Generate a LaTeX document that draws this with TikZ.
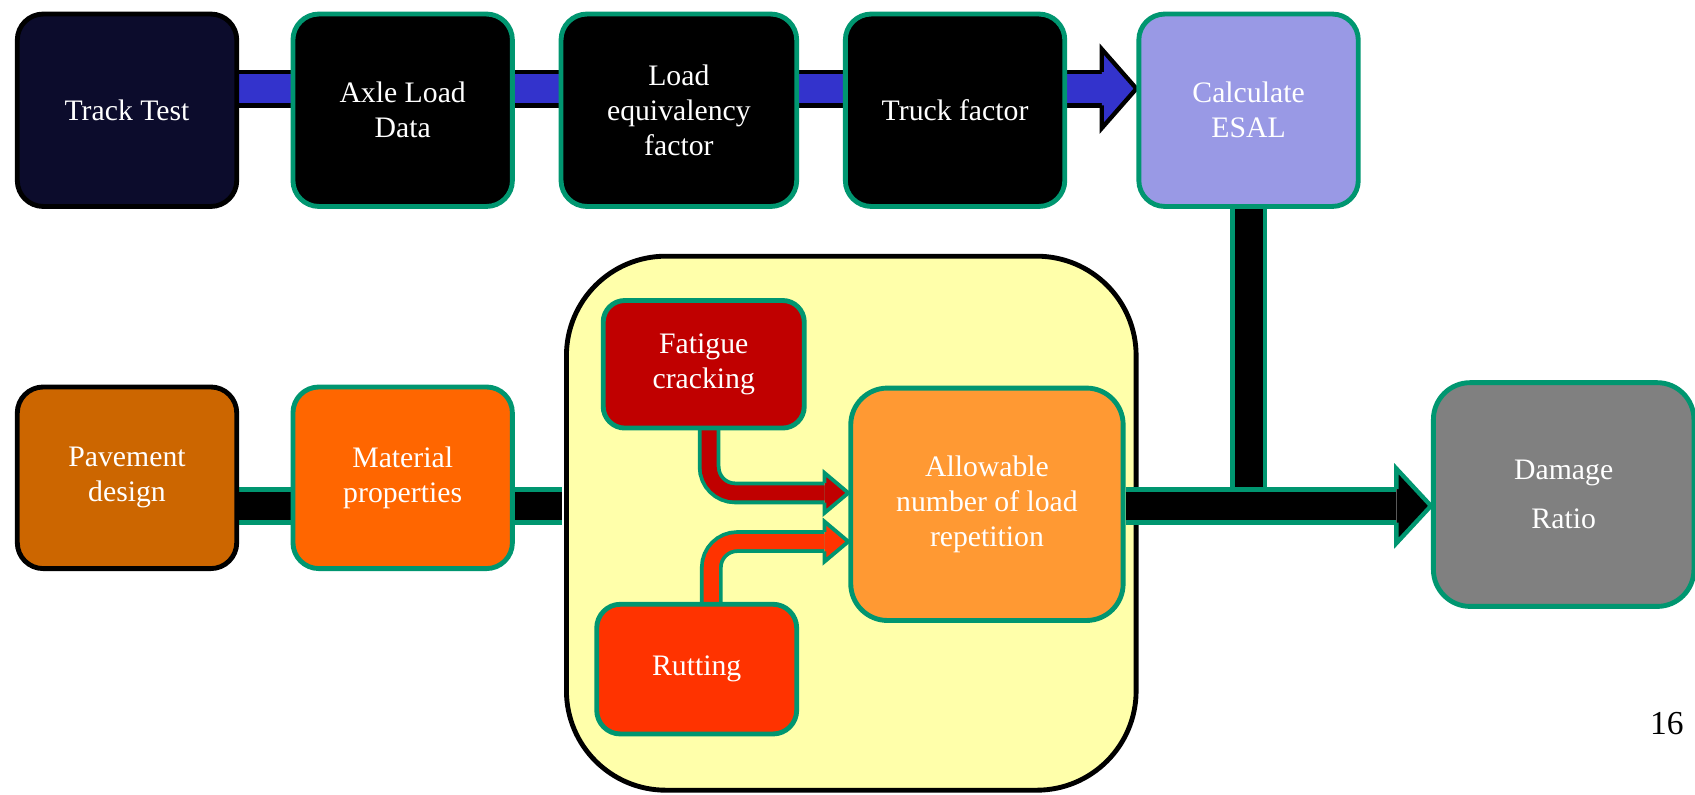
\documentclass[tikz,border=0pt]{standalone}
\usepackage{fontspec}
\setmainfont{Liberation Serif}
\usetikzlibrary{calc}

\definecolor{edge}{RGB}{0,150,112}
\definecolor{navy}{RGB}{12,12,44}
\definecolor{bandblue}{RGB}{51,51,204}
\definecolor{esalblue}{RGB}{153,153,229}
\definecolor{brownish}{RGB}{204,102,0}
\definecolor{matorange}{RGB}{255,102,0}
\definecolor{paleyellow}{RGB}{255,255,170}
\definecolor{darkred}{RGB}{192,0,0}
\definecolor{redorange}{RGB}{255,51,0}
\definecolor{lightorange}{RGB}{255,153,51}
\definecolor{midgrey}{RGB}{128,128,128}

\pgfdeclarelayer{back}
\pgfdeclarelayer{links}
\pgfsetlayers{back,links,main}

\begin{document}
\begin{tikzpicture}[x=1pt, y=1pt,
	box/.style={rounded corners=24pt, line width=4.5pt, draw=edge, text=white, align=center,
		font=\fontsize{27.5}{32.5}\selectfont, minimum width=203pt, minimum height=178pt},
	band/.style={line width=4.5pt, draw=edge, double=black, double distance=26pt},
	thinband/.style={line width=3.5pt, draw=edge, double distance=14pt, rounded corners=24pt},
	head/.style={line width=4pt, draw=edge, line join=miter}]
	\useasboundingbox (0,0) rectangle (1568,735);

	% frame round the damage models
	\begin{pgfonlayer}{back}
		\node [draw=black, fill=paleyellow, line width=4.5pt, rounded corners=92pt,
			minimum width=527pt, minimum height=494pt] (frame) at (787.5,251) {};
	\end{pgfonlayer}

	% top row
	\node [box, draw=black, fill=navy] (track) at (117.5,633) {Track Test};
	\node [box, fill=black] (axle) at (372.5,633) {Axle Load\\Data};
	\node [box, fill=black, minimum width=218pt] (lef) at (628,633) {Load\\equivalency\\factor};
	\node [box, fill=black] (truck) at (883.5,633) {Truck factor};
	\node [box, fill=esalblue] (esal) at (1155,633) {Calculate\\ESAL};

	% bottom row
	\node [box, draw=black, fill=brownish, minimum height=168pt] (pave) at (117.5,293) {Pavement\\design};
	\node [box, fill=matorange, minimum height=168pt] (matl) at (372.5,293) {Material\\properties};
	\node [box, fill=darkred, rounded corners=20pt, minimum width=186pt, minimum height=118pt] (fatigue) at (651,398) {Fatigue\\cracking};
	\node [box, fill=redorange, rounded corners=22pt, minimum width=185pt, minimum height=120pt] (rut) at (644.5,116) {Rutting};
	\node [box, fill=lightorange, rounded corners=34pt, minimum width=252pt, minimum height=215pt] (allow) at (913,268.5) {Allowable\\number of load\\repetition};
	\node [box, fill=midgrey, rounded corners=34pt, minimum width=241pt, minimum height=207pt,
		font=\fontsize{27.5}{46}\selectfont] (damage) at (1446.5,277.5) {Damage\\Ratio};
	\node [font=\fontsize{31}{31}\selectfont] (page) at (1542,66) {16};

	\coordinate (mid) at (0,267);
	\coordinate (bluetip) at ($(esal.west)+(0,20)$);
	\coordinate (dmgtip) at (damage.west |- mid);
	\coordinate (fattip) at ($(allow.west)+(0,10.5)$);
	\coordinate (ruttip) at ($(allow.west)+(0,-34.5)$);

	\begin{pgfonlayer}{links}
		% blue arrow along the top row
		\draw [band, draw=black, double=bandblue, line width=4pt, double distance=27pt] ($(track.east)+(0,20)$) -- ($(bluetip)+(-32,0)$);
		\fill [bandblue] (bluetip) -- ++(-32,36.5) -- ++(0,-73) -- cycle;
		\draw [head, draw=black] ($(bluetip)+(-32,15.5)$) -- ++(0,21) -- (bluetip) -- ++(-32,-36.5) -- ++(0,21);

		% bottom row bands
		\draw [band, shorten >=2.25pt] (pave.east |- mid) -- (frame.west |- mid);
		\draw [band] (esal.south) -- (esal.south |- mid);
		\draw [band] (allow.east |- mid) -- ($(dmgtip)+(-32,0)$);
		\fill [black] (dmgtip) -- ++(-32,34.5) -- ++(0,-69) -- cycle;
		\draw [head] ($(dmgtip)+(-32,15.5)$) -- ++(0,19) -- (dmgtip) -- ++(-32,-34.5) -- ++(0,19);

		% fatigue and rutting into the allowable repetitions
		\draw [thinband, double=darkred] ($(fatigue.south)+(5,4)$) |- ($(fattip)+(-22,0)$);
		\fill [darkred] (fattip) -- ++(-22,18.5) -- ++(0,-37) -- cycle;
		\draw [head, line width=3.5pt] ($(fattip)+(-22,9)$) -- ++(0,9.5) -- (fattip) -- ++(-22,-18.5) -- ++(0,9.5);

		\draw [thinband, double=redorange] ($(rut.north)+(13.5,-4)$) |- ($(ruttip)+(-22,0)$);
		\fill [redorange] (ruttip) -- ++(-22,18.5) -- ++(0,-37) -- cycle;
		\draw [head, line width=3.5pt] ($(ruttip)+(-22,9)$) -- ++(0,9.5) -- (ruttip) -- ++(-22,-18.5) -- ++(0,9.5);
	\end{pgfonlayer}
\end{tikzpicture}
\end{document}
